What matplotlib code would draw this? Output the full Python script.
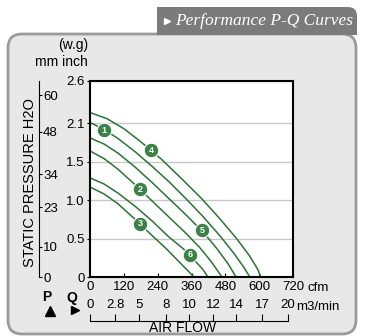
import matplotlib.pyplot as plt
from matplotlib.patches import FancyBboxPatch, Rectangle

# P-Q curves: airflow in cfm, static pressure in inch H2O
q4 = [0, 60, 120, 180, 254, 330, 396, 460, 520, 565, 595, 606]
p4 = [2.14, 2.06, 1.93, 1.76, 1.53, 1.26, 1.02, 0.76, 0.50, 0.28, 0.10, 0]
q1 = [0, 50, 100, 160, 220, 280, 340, 400, 460, 510, 545, 567]
p1 = [2.01, 1.92, 1.80, 1.63, 1.44, 1.24, 1.02, 0.79, 0.54, 0.31, 0.13, 0]
q5 = [0, 50, 100, 160, 220, 280, 340, 400, 450, 490, 518]
p5 = [1.81, 1.73, 1.61, 1.43, 1.23, 1.02, 0.81, 0.59, 0.37, 0.17, 0]
q2 = [0, 50, 100, 160, 220, 280, 340, 390, 430, 468]
p2 = [1.64, 1.54, 1.40, 1.20, 0.99, 0.78, 0.57, 0.38, 0.20, 0]
q6 = [0, 50, 100, 160, 220, 280, 330, 370, 400, 418]
p6 = [1.29, 1.21, 1.09, 0.92, 0.73, 0.52, 0.37, 0.22, 0.10, 0]
q3 = [0, 50, 100, 160, 220, 270, 310, 345, 369]
p3 = [1.17, 1.08, 0.95, 0.75, 0.54, 0.37, 0.22, 0.09, 0]

# numbered tags on the curves
tag_q = [50, 177, 177, 216, 397, 355]
tag_p = [1.91, 1.14, 0.69, 1.65, 0.61, 0.29]
tag_txt = ['1', '2', '3', '4', '5', '6']

cfm_ticks = [0, 120, 240, 360, 480, 600, 720]
in_ticks = [0, 0.5, 1.0, 1.5, 2.0, 2.55]
in_labels = ['0', '0.5', '1.0', '1.5', '2.1', '2.6']
mm_ticks = [0, 10, 23, 34, 48, 60]
m3_pos = [0, 89, 174, 270, 351, 436, 518, 610, 702]
m3_labels = ['0', '2.8', '5', '8', '10', '12', '14', '17', '20']

green = '#2a7436'
fs = 9.5

plt.rcParams['font.family'] = ['Liberation Sans', 'DejaVu Sans']
fig = plt.figure(figsize=(3.73, 3.36), dpi=100)

# background panel in pixel coordinates
bg = fig.add_axes([0, 0, 1, 1], zorder=0)
bg.set_xlim(0, 373)
bg.set_ylim(336, 0)
bg.axis('off')
bg.add_patch(FancyBboxPatch((8, 34), 348, 300, boxstyle='round,pad=0,rounding_size=14',
                            fc='#e8e8e8', ec='#9a9a9a', lw=2))
bg.add_patch(FancyBboxPatch((157, 7), 200, 20, boxstyle='round,pad=0,rounding_size=9',
                            fc='#7b7b7b', ec='none'))
bg.add_patch(Rectangle((157, 17), 200, 18, fc='#7b7b7b', ec='none'))
bg.add_patch(Rectangle((157, 7), 60, 12, fc='#7b7b7b', ec='none'))
bg.plot(167, 21, marker='>', ms=4.5, color='white')
bg.text(175, 21, 'Performance P-Q Curves', color='white', fontsize=12.5, style='italic',
        family=['Liberation Serif', 'DejaVu Serif'], ha='left', va='center')

bg.text(73, 45, '(w.g)', fontsize=10, ha='center', va='center')
bg.text(61, 62, 'mm inch', fontsize=10, ha='center', va='center')
bg.text(30, 183, 'STATIC PRESSURE H2O', fontsize=10.5, rotation=90, ha='center', va='center')
bg.text(47, 297, 'P', fontsize=10, weight='bold', ha='center', va='center')
bg.plot(50, 311, marker='^', ms=7, color='black')
bg.text(72, 298, 'Q', fontsize=10, weight='bold', ha='center', va='center')
bg.plot(75, 310, marker='>', ms=6, color='black')
bg.text(308, 288, 'cfm', fontsize=fs, ha='left', va='center')
bg.text(296, 307, 'm3/min', fontsize=fs, ha='left', va='center')
bg.text(183, 328, 'AIR FLOW', fontsize=10, ha='center', va='center')

# main chart
ax = fig.add_axes([90 / 373, 59 / 336, 203 / 373, 196 / 336], zorder=2)
ax.set_xlim(0, 720)
ax.set_ylim(0, 2.55)
for q, p in [(q4, p4), (q1, p1), (q5, p5), (q2, p2), (q6, p6), (q3, p3)]:
    ax.plot(q, p, color=green, lw=1.1, solid_joinstyle='round')
ax.plot(tag_q, tag_p, 'o', ms=10.5, mfc='#3a8246', mec='white', mew=0.8, zorder=3)
for x, y, t in zip(tag_q, tag_p, tag_txt):
    ax.text(x, y, t, color='white', fontsize=6.5, weight='bold', ha='center', va='center', zorder=4)

ax.set_xticks(cfm_ticks, [str(v) for v in cfm_ticks])
ax.set_yticks(in_ticks, in_labels)
ax.tick_params(axis='x', direction='in', length=3, pad=3, labelsize=fs)
ax.tick_params(axis='y', direction='out', length=2, pad=2, labelsize=fs)
ax.grid(axis='y', color='#c8c8c8', lw=1)
ax.set_axisbelow(True)
for s in ax.spines.values():
    s.set_linewidth(1.5)

# inch -> mm scale on the left
mm_ax = ax.secondary_yaxis(-51 / 203, functions=(lambda v: v * 25.4, lambda v: v / 25.4))
mm_ax.set_alignment('right')
mm_ax.set_yticks(mm_ticks, [str(v) for v in mm_ticks])
mm_ax.tick_params(direction='out', length=2, pad=1, labelsize=fs)
mm_ax.spines['right'].set_linewidth(0.8)

# m3/min scale under the cfm axis
m3_ax = ax.secondary_xaxis(-44 / 196)
m3_ax.set_alignment('top')
m3_ax.set_xticks(m3_pos, m3_labels)
m3_ax.tick_params(direction='out', length=5, pad=2, labelsize=fs, width=0.8)
m3_ax.spines['top'].set_bounds(0, 702)
m3_ax.spines['top'].set_linewidth(0.8)

fig.savefig('out.png', dpi=100)
